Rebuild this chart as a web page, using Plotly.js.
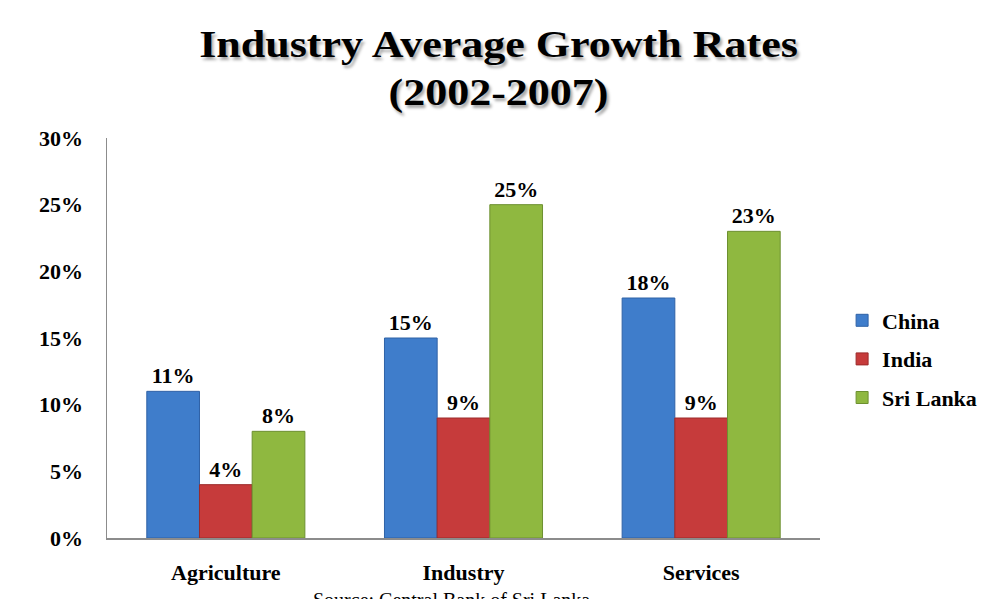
<!DOCTYPE html>
<html>
<head>
<meta charset="utf-8">
<script src="https://cdn.plot.ly/plotly-3.0.1.min.js"></script>
<style>
html,body{margin:0;padding:0;background:#fff;}
#chart{width:997px;height:599px;}
#chart .gtitle{transform-box:fill-box;transform-origin:center;transform:scaleX(1.19);}
</style>
</head>
<body>
<div id="chart"></div>
<script>
const categories = ["Agriculture", "Industry", "Services"];
const seriesNames = ["China", "India", "Sri Lanka"];
const chinaValues = [0.11, 0.15, 0.18];
const indiaValues = [0.04, 0.09, 0.09];
const sriLankaValues = [0.08, 0.25, 0.23];
const yTickValues = [0, 0.05, 0.10, 0.15, 0.20, 0.25, 0.30];
const yTickLabels = ["0%", "5%", "10%", "15%", "20%", "25%", "30%"];

const seriesValues = [chinaValues, indiaValues, sriLankaValues];
const fills = ["#3f7dcb", "#c63b3b", "#8fb840"];
const edges = ["#2f62a6", "#9c2a2a", "#6d9030"];
const serif = "Liberation Serif, Times New Roman, serif";

const traces = seriesNames.map((name, i) => ({
  type: "bar",
  name: name,
  legendgroup: name,
  x: categories,
  y: seriesValues[i],
  marker: {color: fills[i], line: {color: edges[i], width: 1}},
  texttemplate: "%{y:.0%}",
  textposition: "outside",
  cliponaxis: false,
  textfont: {family: serif, size: 22, color: "#000", weight: "bold"},
  hoverinfo: "skip"
}));

const layout = {
  width: 997, height: 599,
  paper_bgcolor: "#fff", plot_bgcolor: "#fff",
  margin: {l: 107, r: 177, t: 138, b: 61},
  barmode: "group",
  bargap: 0.335,
  bargroupgap: 0,
  title: {
    text: "Industry Average Growth Rates<br>(2002-2007)",
    x: 0.5, xref: "container", xanchor: "center",
    y: 0.905, yref: "container", yanchor: "top",
    font: {family: serif, size: 37, color: "#000", weight: "bold", shadow: "2px 3px 3px rgba(0,0,0,0.35)"}
  },
  xaxis: {
    type: "category",
    showline: true, linecolor: "#8c8c8c", linewidth: 1.5,
    showgrid: false, zeroline: false,
    ticks: "", ticklabelstandoff: 14,
    tickfont: {family: serif, size: 22, color: "#000", weight: "bold"}
  },
  yaxis: {
    range: [0, 0.30],
    tickvals: yTickValues, ticktext: yTickLabels,
    showline: true, linecolor: "#8c8c8c", linewidth: 1.5,
    showgrid: false, zeroline: false,
    ticks: "", ticklabelstandoff: 18,
    tickfont: {family: serif, size: 22, color: "#000", weight: "bold"}
  },
  showlegend: true,
  legend: {
    x: 1.031, xanchor: "left", y: 0.4475, yanchor: "middle",
    font: {family: serif, size: 22, color: "#000", weight: "bold"},
    tracegroupgap: 7,
    bgcolor: "rgba(0,0,0,0)"
  },
  annotations: [{
    text: "Source: Central Bank of Sri Lanka",
    xref: "paper", yref: "paper",
    x: 0.4825, y: -0.122, xanchor: "center", yanchor: "top",
    showarrow: false,
    font: {family: serif, size: 20, color: "#000"}
  }]
};

Plotly.newPlot("chart", traces, layout, {displayModeBar: false, staticPlot: true});
</script>
</body>
</html>
